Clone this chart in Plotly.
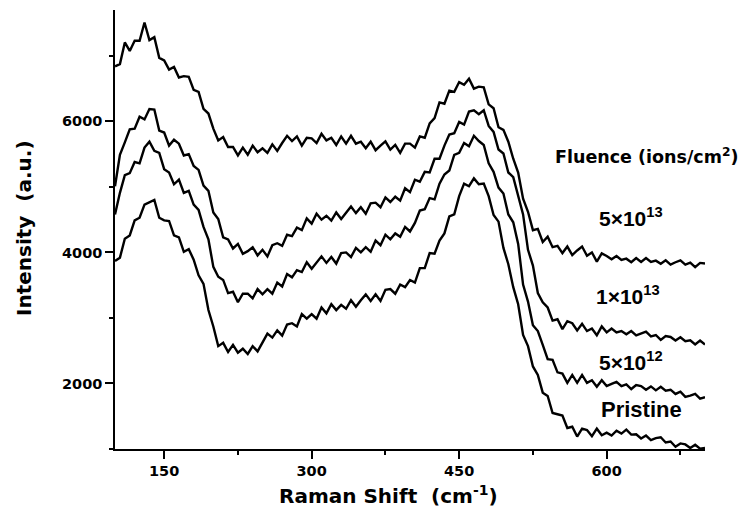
import plotly.graph_objects as go

raman_shift = list(range(100, 705, 5))

fluence_5e13 = [
    6840, 6875, 7205, 7075, 7230, 7230, 7510, 7240, 7285, 6970,
    6930, 6790, 6830, 6670, 6690, 6680, 6480, 6450, 6190, 6120,
    5890, 5710, 5760, 5610, 5610, 5480, 5600, 5490, 5630, 5530,
    5590, 5520, 5650, 5550, 5670, 5780, 5700, 5770, 5630, 5750,
    5740, 5670, 5810, 5710, 5750, 5640, 5770, 5660, 5780, 5660,
    5690, 5590, 5690, 5560, 5630, 5695, 5570, 5640, 5520, 5660,
    5660, 5600, 5770, 5750, 5970, 6050, 6290, 6270, 6470, 6450,
    6600, 6560, 6650, 6500, 6530, 6520, 6260, 6200, 5910, 5870,
    5690, 5430, 5220, 4820, 4620, 4340, 4360, 4160, 4240, 4080,
    4100, 3990, 4090, 3960, 4030, 4090, 3950, 4000, 3860, 3985,
    3945, 3895, 3945, 3885, 3905, 3850, 3915, 3855, 3915, 3855,
    3875, 3828, 3880, 3815, 3850, 3880, 3815, 3845, 3775, 3840,
    3830,
]

fluence_1e13 = [
    5010, 5490, 5680, 5880, 5890, 6070, 6030, 6190, 6180, 5860,
    5830, 5630, 5720, 5660, 5480, 5500, 5320, 5260, 5020, 4940,
    4610, 4510, 4230, 4200, 4060, 4130, 3980, 4020, 4080, 3955,
    4040, 3940, 4110, 4140, 4100, 4270, 4250, 4380, 4340, 4520,
    4440, 4590, 4500, 4560, 4485, 4610, 4510, 4610, 4700, 4600,
    4690, 4590, 4750, 4760, 4690, 4840, 4770, 4850, 4790, 4980,
    4920, 5110, 5080, 5230, 5220, 5430, 5430, 5630, 5800, 5820,
    5990, 5950, 6150, 6170, 6110, 6170, 5930, 5840, 5570, 5510,
    5220, 5150, 4880, 4580, 4040, 3800, 3380, 3240, 3160, 2960,
    2980, 2830, 2950, 2920, 2810, 2910, 2800, 2840, 2735, 2870,
    2780, 2840, 2780, 2800, 2750, 2800, 2735, 2765, 2790, 2720,
    2740, 2665, 2725, 2710, 2655, 2705, 2645, 2660, 2595, 2655,
    2595,
]

fluence_5e12 = [
    4580, 4910, 5180, 5210, 5380, 5360, 5600, 5690, 5550, 5520,
    5270, 5220, 5040, 5110, 4910, 4940, 4730, 4650, 4390, 4200,
    3780, 3630, 3580, 3380, 3400, 3240, 3370, 3370, 3300, 3440,
    3360, 3440, 3370, 3540, 3480, 3670, 3620, 3730, 3700, 3850,
    3750, 3850, 3940, 3840, 3930, 3830, 3990, 4000, 3930, 4070,
    4000, 4080, 4010, 4180, 4110, 4270, 4200, 4290, 4240, 4390,
    4320, 4450, 4640, 4660, 4830, 4810, 5050, 5190, 5250, 5490,
    5520, 5670, 5620, 5780, 5700, 5640, 5360, 5230, 4990, 4900,
    4580, 4460, 4130, 3510, 3250, 2890, 2800, 2590, 2370, 2360,
    2170, 2150, 2010, 2130, 2010, 2130, 2010, 2050, 1950, 2050,
    1960, 1995, 2025, 1960, 1985, 1915, 1975, 1960, 1905, 1955,
    1895, 1950, 1890, 1905, 1840, 1875, 1795, 1815, 1840, 1770,
    1790,
]

pristine = [
    3870, 3920, 4210, 4260, 4490, 4530, 4730, 4760, 4800, 4530,
    4490, 4480, 4260, 4230, 4010, 4050, 3890, 3650, 3520, 3120,
    2870, 2570, 2620, 2480, 2590, 2470, 2530, 2450, 2570, 2490,
    2630, 2760, 2700, 2810, 2730, 2900, 2920, 2870, 3060, 2990,
    3060, 2990, 3160, 3070, 3210, 3120, 3200, 3140, 3270, 3170,
    3270, 3360, 3260, 3360, 3260, 3430, 3440, 3370, 3510, 3470,
    3580, 3540, 3760, 3760, 3990, 3980, 4180, 4290, 4550, 4580,
    4860, 5050, 5010, 5130, 5040, 5050, 4860, 4570, 4470, 4070,
    3820, 3470, 3210, 2740, 2570, 2260, 2130, 1860, 1810, 1550,
    1530, 1510, 1320, 1340, 1190, 1310, 1290, 1195, 1310, 1210,
    1250, 1205, 1280, 1235, 1295, 1220, 1225, 1160, 1205, 1135,
    1165, 1180, 1100, 1115, 1035, 1085, 1070, 1015, 1065, 1005,
    1015,
]

series = [
    ("5×10¹³", fluence_5e13),
    ("1×10¹³", fluence_1e13),
    ("5×10¹²", fluence_5e12),
    ("Pristine", pristine),
]

fig = go.Figure()
for name, ys in series:
    fig.add_trace(go.Scatter(
        x=raman_shift, y=ys, mode="lines", name=name,
        line=dict(color="black", width=2.4),
        showlegend=False,
    ))

L, R, T, B = 115, 45, 10, 62
W, H = 750, 511
pw, ph = W - L - R, H - T - B


def px(xp):
    return (xp - L) / pw


def py(yp):
    return (H - B - yp) / ph


tick_font = dict(family="DejaVu Sans", size=14.5, color="black", weight="bold")

fig.update_layout(
    width=W, height=H,
    margin=dict(l=L, r=R, t=T, b=B),
    paper_bgcolor="white", plot_bgcolor="white",
    xaxis=dict(
        range=[100, 700], showgrid=False, zeroline=False,
        showline=True, linecolor="black", linewidth=1.5,
        ticks="outside", ticklen=8, tickwidth=1.5, tickcolor="black",
        tickmode="linear", tick0=0, dtick=150,
        minor=dict(ticks="outside", ticklen=4, tickwidth=1.5, tickcolor="black", dtick=75, tick0=0),
        tickfont=tick_font,
    ),
    yaxis=dict(
        range=[1000, 7700], showgrid=False, zeroline=False,
        showline=True, linecolor="black", linewidth=1.5,
        ticks="outside", ticklen=8, tickwidth=1.5, tickcolor="black",
        tickmode="linear", tick0=0, dtick=2000,
        minor=dict(ticks="outside", ticklen=4, tickwidth=1.5, tickcolor="black", dtick=1000, tick0=0),
        tickfont=tick_font,
    ),
)

bold_dv = dict(family="DejaVu Sans", color="black", weight="bold")
bold_lib = dict(family="Liberation Sans", color="black", weight="bold")

annots = [
    dict(text="Raman Shift\u00a0 (cm<sup>-1</sup>)", x=px(388), y=py(495), xanchor="center", yanchor="middle",
         font=dict(size=20, **bold_dv)),
    dict(text="Intensity\u00a0 (a.u.)", x=px(24), y=py(228), xanchor="center", yanchor="middle", textangle=-90,
         font=dict(size=20, **bold_dv)),
    dict(text="Fluence (ions/cm<sup>2</sup>)", x=px(553), y=py(156), xanchor="left", yanchor="middle",
         font=dict(size=17.5, **bold_dv)),
    dict(text="5×10<sup>13</sup>", x=px(597), y=py(217), xanchor="left", yanchor="middle",
         font=dict(size=21, **bold_lib)),
    dict(text="1×10<sup>13</sup>", x=px(594), y=py(295), xanchor="left", yanchor="middle",
         font=dict(size=21, **bold_lib)),
    dict(text="5×10<sup>12</sup>", x=px(597), y=py(361), xanchor="left", yanchor="middle",
         font=dict(size=21, **bold_lib)),
    dict(text="Pristine", x=px(599), y=py(409.5), xanchor="left", yanchor="middle",
         font=dict(size=22, **bold_lib)),
]
for a in annots:
    fig.add_annotation(xref="paper", yref="paper", showarrow=False, **a)

fig.write_html("out.html")
